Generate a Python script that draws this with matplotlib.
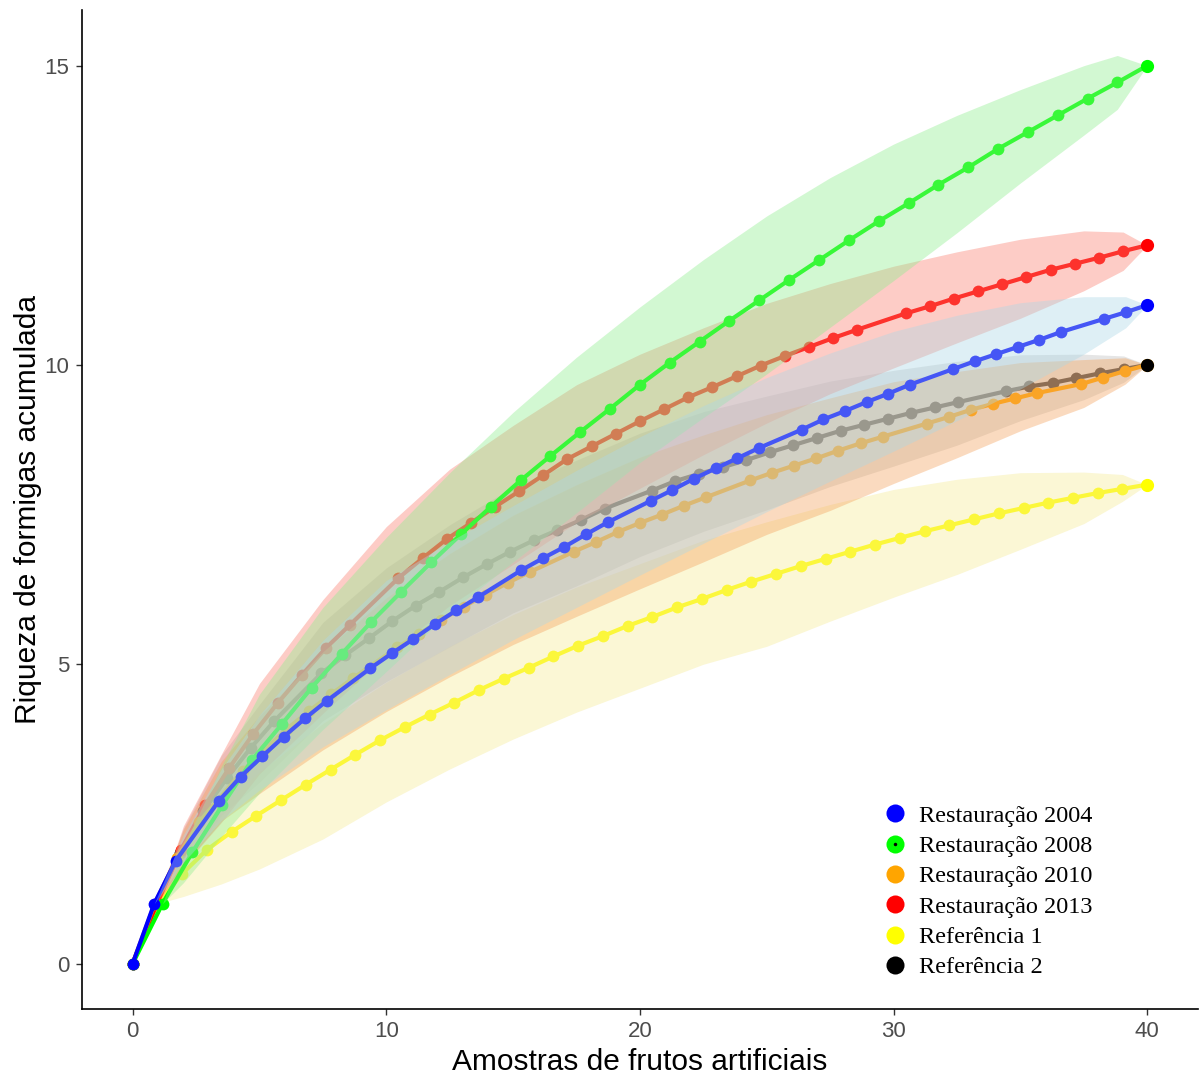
import matplotlib
matplotlib.use("Agg")
import matplotlib.pyplot as plt
from matplotlib.lines import Line2D

# curvas de rarefacao (riqueza acumulada x amostras)
labels = ["Restauração 2004", "Restauração 2008", "Restauração 2010",
          "Restauração 2013", "Referência 1", "Referência 2"]
cores = ["#0000ff", "#00ff00", "#ffa500", "#ff0000", "#ffff00", "#000000"]

r04_x = [0, 0.851, 1.702, 3.404, 4.255, 5.106, 5.957, 6.809, 7.660, 9.362, 10.213,
         11.064, 11.915, 12.766, 13.617, 15.319, 16.170, 17.021, 17.872, 18.723,
         20.426, 21.277, 22.128, 22.979, 23.830, 24.681, 26.383, 27.234, 28.085,
         28.936, 29.787, 30.638, 32.340, 33.191, 34.043, 34.894, 35.745, 36.596,
         38.298, 39.149, 40.0]
r04_y = [0, 1.0, 1.72, 2.72, 3.12, 3.46, 3.79, 4.10, 4.39, 4.93, 5.18, 5.42, 5.67,
         5.90, 6.12, 6.57, 6.77, 6.96, 7.17, 7.37, 7.73, 7.91, 8.10, 8.27, 8.44,
         8.61, 8.92, 9.09, 9.23, 9.38, 9.52, 9.67, 9.93, 10.06, 10.18, 10.30, 10.42,
         10.55, 10.77, 10.88, 11.0]

r08_x = [0, 1.176, 2.353, 3.529, 4.706, 5.882, 7.059, 8.235, 9.412, 10.588, 11.765,
         12.941, 14.118, 15.294, 16.471, 17.647, 18.824, 20.0, 21.176, 22.353,
         23.529, 24.706, 25.882, 27.059, 28.235, 29.412, 30.588, 31.765, 32.941,
         34.118, 35.294, 36.471, 37.647, 38.824, 40.0]
r08_y = [0, 1.0, 1.86, 2.64, 3.40, 4.0, 4.61, 5.17, 5.71, 6.21, 6.70, 7.17, 7.63,
         8.07, 8.48, 8.88, 9.27, 9.67, 10.04, 10.39, 10.74, 11.08, 11.42, 11.75,
         12.08, 12.40, 12.70, 13.01, 13.30, 13.61, 13.89, 14.17, 14.45, 14.72, 15.0]

r10_x = [0, 0.870, 1.739, 2.609, 4.348, 5.217, 6.087, 6.957, 7.826, 8.696, 10.435,
         11.304, 12.174, 13.043, 13.913, 14.783, 15.652, 17.391, 18.261, 19.130,
         20.0, 20.870, 21.739, 22.609, 24.348, 25.217, 26.087, 26.957, 27.826,
         28.696, 29.565, 31.304, 32.174, 33.043, 33.913, 34.783, 35.652, 37.391,
         38.261, 39.130, 40.0]
r10_y = [0, 1.0, 1.76, 2.36, 3.22, 3.58, 3.92, 4.22, 4.50, 4.77, 5.28, 5.51, 5.74,
         5.96, 6.16, 6.36, 6.54, 6.88, 7.04, 7.21, 7.36, 7.50, 7.65, 7.79, 8.07,
         8.20, 8.32, 8.44, 8.57, 8.69, 8.80, 9.02, 9.13, 9.25, 9.35, 9.44, 9.53,
         9.68, 9.79, 9.90, 10.0]

r13_x = [0, 0.952, 1.905, 2.857, 3.810, 4.762, 5.714, 6.667, 7.619, 8.571, 10.476,
         11.429, 12.381, 13.333, 14.286, 15.238, 16.190, 17.143, 18.095, 19.048,
         20.0, 20.952, 21.905, 22.857, 23.810, 24.762, 25.714, 26.667, 27.619,
         28.571, 30.476, 31.429, 32.381, 33.333, 34.286, 35.238, 36.190, 37.143,
         38.095, 39.048, 40.0]
r13_y = [0, 1.0, 1.90, 2.64, 3.27, 3.84, 4.35, 4.82, 5.27, 5.66, 6.44, 6.77, 7.09,
         7.36, 7.63, 7.89, 8.16, 8.43, 8.64, 8.85, 9.06, 9.26, 9.46, 9.63, 9.81,
         9.99, 10.15, 10.30, 10.45, 10.59, 10.86, 10.98, 11.11, 11.23, 11.35, 11.47,
         11.59, 11.69, 11.79, 11.90, 12.0]

ref1_x = [0, 0.976, 1.951, 2.927, 3.902, 4.878, 5.854, 6.829, 7.805, 8.780, 9.756,
          10.732, 11.707, 12.683, 13.659, 14.634, 15.610, 16.585, 17.561, 18.537,
          19.512, 20.488, 21.463, 22.439, 23.415, 24.390, 25.366, 26.341, 27.317,
          28.293, 29.268, 30.244, 31.220, 32.195, 33.171, 34.146, 35.122, 36.098,
          37.073, 38.049, 39.024, 40.0]
ref1_y = [0, 1.0, 1.5, 1.9, 2.2, 2.47, 2.73, 2.99, 3.24, 3.49, 3.73, 3.95, 4.16,
          4.36, 4.57, 4.76, 4.94, 5.13, 5.31, 5.47, 5.64, 5.79, 5.95, 6.09, 6.24,
          6.38, 6.51, 6.64, 6.76, 6.88, 7.0, 7.11, 7.22, 7.32, 7.42, 7.52, 7.61,
          7.70, 7.78, 7.86, 7.93, 8.0]

ref2_x = [0, 0.930, 1.860, 2.791, 3.721, 4.651, 5.581, 7.442, 8.372, 9.302, 10.233,
          11.163, 12.093, 13.023, 13.953, 14.884, 15.814, 16.744, 17.674, 18.605,
          20.465, 21.395, 22.326, 23.256, 24.186, 25.116, 26.047, 26.977, 27.907,
          28.837, 29.767, 30.698, 31.628, 32.558, 34.419, 35.349, 36.279, 37.209,
          38.140, 39.070, 40.0]
ref2_y = [0, 1.0, 1.85, 2.55, 3.10, 3.60, 4.05, 4.85, 5.15, 5.43, 5.72, 5.98, 6.21,
          6.45, 6.67, 6.88, 7.07, 7.24, 7.41, 7.60, 7.90, 8.06, 8.18, 8.29, 8.41,
          8.54, 8.66, 8.78, 8.90, 9.00, 9.10, 9.20, 9.29, 9.38, 9.56, 9.64, 9.70,
          9.78, 9.86, 9.93, 10.0]

# intervalos de confianca (limite inferior / superior)
r04_ci_x = [0.851, 2, 3.5, 5, 7.5, 10, 12.5, 15, 17.5, 20, 22.5, 25, 27.5, 30,
            32.5, 35, 37.5, 39.15, 40]
r04_lo = [1.0, 1.69, 2.39, 2.90, 3.62, 4.24, 4.83, 5.41, 5.95, 6.49, 7.02, 7.55,
          8.06, 8.56, 9.07, 9.60, 10.18, 10.62, 11.0]
r04_hi = [1.0, 2.15, 3.25, 4.15, 5.40, 6.40, 7.05, 7.65, 8.24, 8.80, 9.32, 9.79,
          10.20, 10.56, 10.83, 11.04, 11.14, 11.14, 11.0]

r08_ci_x = [1.176, 2, 3.5, 5, 7.5, 10, 12.5, 15, 17.5, 20, 22.5, 25, 27.5, 30,
            32.5, 35, 37.5, 38.82, 40]
r08_lo = [1.0, 1.35, 2.12, 2.85, 3.91, 4.88, 5.87, 6.71, 7.53, 8.37, 9.12, 9.85,
          10.63, 11.41, 12.21, 13.04, 13.84, 14.27, 15.0]
r08_hi = [1.0, 1.95, 3.30, 4.50, 5.95, 7.12, 8.20, 9.21, 10.13, 10.97, 11.76, 12.49,
          13.13, 13.69, 14.17, 14.60, 15.0, 15.17, 15.0]

r10_ci_x = [0.870, 2, 3.5, 5, 7.5, 10, 12.5, 15, 17.5, 20, 22.5, 25, 27.5, 30,
            32.5, 35, 37.5, 39.13, 40]
r10_lo = [1.0, 1.64, 2.38, 2.84, 3.57, 4.21, 4.79, 5.33, 5.80, 6.26, 6.71, 7.17,
          7.57, 8.02, 8.45, 8.90, 9.29, 9.68, 10.0]
r10_hi = [1.0, 2.24, 3.38, 4.14, 5.21, 6.11, 6.85, 7.49, 8.00, 8.46, 8.83, 9.17,
          9.45, 9.72, 9.89, 10.04, 10.09, 10.12, 10.0]

r13_ci_x = [0.952, 2, 3.5, 5, 7.5, 10, 12.5, 15, 17.5, 20, 22.5, 25, 27.5, 30,
            32.5, 35, 37.5, 39.05, 40]
r13_lo = [1.0, 1.63, 2.36, 3.17, 4.18, 5.15, 5.98, 6.67, 7.37, 7.94, 8.50, 9.03,
          9.52, 9.95, 10.37, 10.78, 11.24, 11.58, 12.0]
r13_hi = [1.0, 2.30, 3.50, 4.68, 6.08, 7.30, 8.26, 8.99, 9.67, 10.18, 10.62, 11.03,
          11.36, 11.65, 11.89, 12.10, 12.24, 12.22, 12.0]

ref1_ci_x = [0.976, 2, 3.5, 5, 7.5, 10, 12.5, 15, 17.5, 20, 22.5, 25, 27.5, 30,
             32.5, 35, 37.5, 39.02, 40]
ref1_lo = [1.0, 1.12, 1.33, 1.58, 2.08, 2.70, 3.25, 3.75, 4.20, 4.60, 5.00, 5.30,
           5.72, 6.12, 6.50, 6.92, 7.35, 7.72, 8.0]
ref1_hi = [1.0, 1.88, 2.63, 3.20, 4.01, 4.70, 5.30, 5.83, 6.29, 6.68, 7.07, 7.38,
           7.67, 7.92, 8.09, 8.20, 8.21, 8.17, 8.0]

ref2_ci_x = [0.930, 2, 3.5, 5, 7.5, 10, 12.5, 15, 17.5, 20, 22.5, 25, 27.5, 30,
             32.5, 35, 37.5, 39.07, 40]
ref2_lo = [1.0, 1.66, 2.48, 3.03, 4.06, 4.71, 5.29, 5.86, 6.31, 6.80, 7.22, 7.58,
           7.97, 8.31, 8.66, 9.07, 9.42, 9.71, 10.0]
ref2_hi = [1.0, 2.26, 3.48, 4.33, 5.70, 6.61, 7.33, 7.96, 8.41, 8.86, 9.22, 9.48,
           9.73, 9.91, 10.06, 10.17, 10.18, 10.15, 10.0]

# preenchimento das faixas
faixa_cor = ["#add8e6", "#90ee90", "#f4a460", "#fa8072", "#f5eb96", "#bebebe"]

curvas = [(r04_x, r04_y), (r08_x, r08_y), (r10_x, r10_y),
          (r13_x, r13_y), (ref1_x, ref1_y), (ref2_x, ref2_y)]
faixas = [(r04_ci_x, r04_lo, r04_hi), (r08_ci_x, r08_lo, r08_hi),
          (r10_ci_x, r10_lo, r10_hi), (r13_ci_x, r13_lo, r13_hi),
          (ref1_ci_x, ref1_lo, ref1_hi), (ref2_ci_x, ref2_lo, ref2_hi)]
ordem = [5, 4, 3, 2, 1, 0]

fig = plt.figure(figsize=(12, 10.75), dpi=100)
ax = fig.add_axes([0.0683, 0.0614, 0.93, 0.9293])

# cada grupo: linha com pontos e, por cima, a sua faixa
z = 2
for i in ordem:
    x, y = curvas[i]
    ax.plot(x, y, color=cores[i], lw=3.0, marker="o", ms=8.5,
            markeredgewidth=0, zorder=z, solid_capstyle="round")
    xc, lo, hi = faixas[i]
    ax.fill_between(xc, lo, hi, color=faixa_cor[i], alpha=0.4, lw=0, zorder=z + 0.5)
    z += 1

# ponto observado no fim de cada curva
for i in range(6):
    x, y = curvas[i]
    ax.plot(x[-1], y[-1], "o", color=cores[i], ms=9.5, markeredgewidth=0, zorder=20)

ax.set_xlim(-2, 42)
ax.set_ylim(-0.76, 15.93)
ax.set_xticks([0, 10, 20, 30, 40])
ax.set_yticks([0, 5, 10, 15])

for s in ["top", "right"]:
    ax.spines[s].set_visible(False)
for s in ["left", "bottom"]:
    ax.spines[s].set_linewidth(1.2)
    ax.spines[s].set_color("black")

ax.tick_params(axis="both", length=4, width=1, color="#333333",
               labelsize=16, labelcolor="#4d4d4d", pad=5)
for t in ax.get_xticklabels() + ax.get_yticklabels():
    t.set_family("Liberation Sans")

ax.set_xlabel("Amostras de frutos artificiais", family="Liberation Sans",
              fontsize=21.5, labelpad=4)
ax.set_ylabel("Riqueza de formigas acumulada", family="Liberation Sans",
              fontsize=21.5, labelpad=2)

handles = []
for i in range(6):
    h = Line2D([], [], ls="none", marker="o", ms=13, color=cores[i],
               markeredgewidth=0)
    if i == 1:
        h = (h, Line2D([], [], ls="none", marker="o", ms=2.5, color="black",
                       markeredgewidth=0))
    handles.append(h)

leg = ax.legend(handles, labels, loc="lower left", bbox_to_anchor=(0.709, 0.021),
                frameon=False, handlelength=1.0, handletextpad=0.5,
                labelspacing=0.34, borderaxespad=0,
                prop={"family": "Liberation Serif", "size": 17.5})

fig.savefig("out.png", dpi=100)
